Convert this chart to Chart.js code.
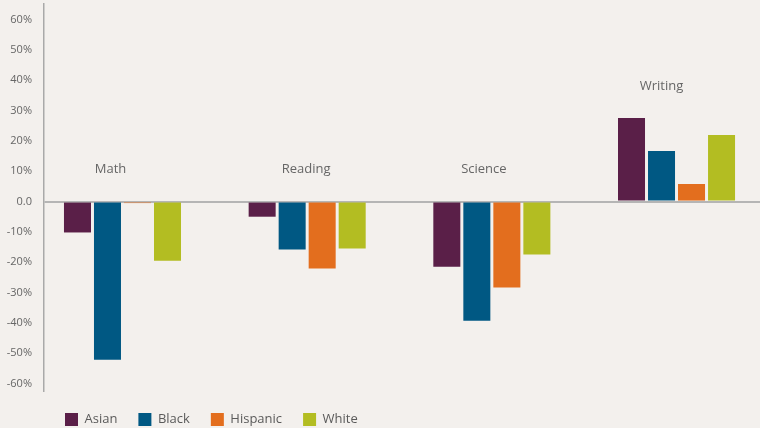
<!DOCTYPE html>
<html>
<head>
<meta charset="utf-8">
<script src="https://cdn.jsdelivr.net/npm/chart.js@4/dist/chart.umd.min.js"></script>
<style>
  html, body { margin: 0; padding: 0; background: #f3f0ed; }
  #wrap { width: 760px; height: 428px; position: relative; }
</style>
</head>
<body>
<div id="wrap"><canvas id="myChart"></canvas></div>
<script>
// data (percent change)
var categories = ["Math", "Reading", "Science", "Writing"];
var seriesNames = ["Asian", "Black", "Hispanic", "White"];
var asian    = [-10.2, -5.0, -21.5, 27.6];
var black    = [-52.2, -15.8, -39.3, 16.7];
var hispanic = [-0.5, -22.1, -28.4, 5.8];
var white    = [-19.5, -15.5, -17.5, 22.0];
var yTicks   = [-60, -50, -40, -30, -20, -10, 0, 10, 20, 30, 40, 50, 60];

var seriesValues = [asian, black, hispanic, white];
var seriesColors = ["#5a1f48", "#005883", "#e36e1e", "#b3bd22"];

// category name nudges (px) to sit where the original put them
var labelShift = [-12, -1, -8, -15];

function toPoints(values) {
  return values.map(function (v, i) { return { x: i, y: v }; });
}

var datasets = [];
for (var i = 0; i < seriesNames.length; i++) {
  datasets.push({
    label: seriesNames[i],
    data: toPoints(seriesValues[i]),
    backgroundColor: seriesColors[i],
    borderWidth: 0,
    categoryPercentage: 0.65,
    barPercentage: 0.9
  });
}

// draws the subject names above each group of bars
var groupLabels = {
  id: "groupLabels",
  afterDatasetsDraw: function (chart) {
    var ctx = chart.ctx;
    var xs = chart.scales.x, ys = chart.scales.y;
    ctx.save();
    ctx.font = "13px 'Open Sans'";
    ctx.fillStyle = "#666666";
    ctx.textAlign = "center";
    ctx.textBaseline = "middle";
    for (var c = 0; c < categories.length; c++) {
      var top = 0;
      for (var s = 0; s < seriesValues.length; s++) {
        top = Math.max(top, seriesValues[s][c]);
      }
      var px = xs.getPixelForValue(c) + labelShift[c];
      var py = ys.getPixelForValue(top) - 32;
      ctx.fillText(categories[c], px, py);
    }
    ctx.restore();
  }
};

var chart = new Chart(document.getElementById("myChart").getContext("2d"), {
  type: "bar",
  data: { datasets: datasets },
  plugins: [groupLabels],
  options: {
    responsive: true,
    maintainAspectRatio: false,
    animation: false,
    layout: { padding: { top: 4, left: 0, right: 0, bottom: -8 } },
    scales: {
      x: {
        type: "linear",
        display: false,
        offset: false,
        min: -0.425,
        max: 3.452,
        ticks: { stepSize: 1, includeBounds: false }
      },
      y: {
        min: -62.85,
        max: 65.2,
        afterFit: function (scale) {
          scale.width = 44;
          scale.paddingTop = 0;
          scale.paddingBottom = 0;
        },
        afterBuildTicks: function (scale) {
          scale.ticks = yTicks.map(function (v) { return { value: v }; });
        },
        border: { display: true, color: "#a9a9a9", width: 1.5 },
        grid: {
          drawTicks: false,
          color: function (ctx) {
            return ctx.tick && ctx.tick.value === 0 ? "#b5b5b5" : "rgba(0,0,0,0)";
          },
          lineWidth: function (ctx) {
            return ctx.tick && ctx.tick.value === 0 ? 2 : 0;
          }
        },
        ticks: {
          padding: 12,
          color: "#666666",
          font: { family: "'Open Sans'", size: 11 },
          callback: function (v) { return v === 0 ? "0.0" : v + "%"; }
        }
      }
    },
    plugins: {
      tooltip: { enabled: false },
      legend: {
        position: "bottom",
        align: "start",
        fullSize: false,
        labels: {
          boxWidth: 13,
          boxHeight: 13,
          padding: 21,
          color: "#5a5a5a",
          font: { family: "'Open Sans'", size: 13 }
        }
      }
    }
  }
});
</script>
</body>
</html>
